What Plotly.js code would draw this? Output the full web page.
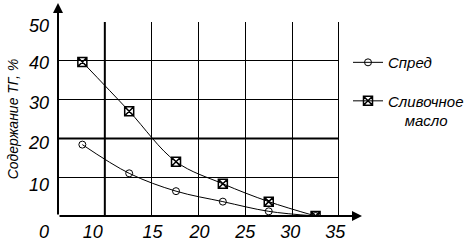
<!DOCTYPE html>
<html><head><meta charset="utf-8">
<script src="https://cdn.plot.ly/plotly-3.0.1.min.js"></script>
<style>html,body{margin:0;padding:0;background:#fff}</style>
</head><body><div id="chart" style="width:464px;height:242px"></div>
<script>
const xSpread = [7.6, 12.6, 17.6, 22.6, 27.5, 32.5];
const ySpread = [18.4, 11.0, 6.4, 3.7, 1.2, 0];
const xButter = [7.6, 12.6, 17.6, 22.6, 27.5, 32.5];
const yButter = [39.7, 27.0, 14.0, 8.3, 3.7, 0];
const gridX = [10, 15, 20, 25, 30, 35];
const gridY = [0, 10, 20, 30, 40, 50];
const xTickVals = [8.7, 15.1, 20.1, 25.0, 29.8, 34.6];
const xTickText = ['10', '15', '20', '25', '30', '35'];
const yTickVals = [49, 39.6, 29.3, 18.9, 8.1, -4.0];
const yTickText = ['50', '40', '30', '20', '10', '0'];
const seriesNames = ['Спред', 'Сливочное<br>\u00a0\u00a0\u00a0\u00a0масло'];
const yTitle = 'Содержание ТГ, %';

const FONT = '"Liberation Sans", Arial, sans-serif';
const W = 464, H = 242;
const mL = 58, mR = 125, mT = 22, mB = 5;
const plotW = W - mL - mR;
const plotH = H - mT - mB;
const gridBottomPx = 216;
const d0 = (H - mB - gridBottomPx) / plotH;
const y2min = -50 * d0 / (1 - d0);

const traces = [
  {x: xSpread, y: ySpread, name: seriesNames[0], type: 'scatter', mode: 'lines+markers',
   line: {color: '#000', width: 1, shape: 'spline', smoothing: 1},
   marker: {symbol: 'circle-open', size: 7, color: '#000', line: {width: 1, color: '#000'}},
   legendgroup: 'a'},
  {x: xButter, y: yButter, name: seriesNames[1], type: 'scatter', mode: 'lines+markers',
   line: {color: '#000', width: 1, shape: 'spline', smoothing: 1},
   marker: {symbol: 'square-x-open', size: 9, color: '#000', line: {width: 1.5, color: '#000'}},
   legendgroup: 'b'},
  {x: [], y: [], xaxis: 'x3', yaxis: 'y2', showlegend: false, hoverinfo: 'skip'},
  {x: [], y: [], xaxis: 'x2', yaxis: 'y', showlegend: false, hoverinfo: 'skip'}
];

const tickFont = {family: FONT, size: 18, color: '#000', style: 'italic'};

const layout = {
  width: W, height: H,
  margin: {l: mL, r: mR, t: mT, b: mB, autoexpand: false},
  paper_bgcolor: '#fff', plot_bgcolor: 'rgba(0,0,0,0)',
  showlegend: true,
  legend: {x: (348 - mL) / plotW, y: 0.888, xanchor: 'left', yanchor: 'top', valign: 'top',
           tracegroupgap: 16, bgcolor: 'rgba(0,0,0,0)',
           font: {family: FONT, size: 15, color: '#000', style: 'italic'}},
  xaxis: {domain: [0, 1], range: [5, 35], anchor: 'y', tickvals: gridX, showgrid: true,
          gridcolor: '#000', gridwidth: 1, showticklabels: false, ticks: '',
          zeroline: false, showline: false},
  xaxis2: {overlaying: 'x', anchor: 'y', range: [5, 35], tickvals: xTickVals, ticktext: xTickText,
           showgrid: false, zeroline: false, showline: false, ticks: '', side: 'bottom',
           tickfont: tickFont, ticklabelstandoff: 3},
  xaxis3: {domain: [0, 1], range: [5, 35], anchor: 'y2', visible: false, showgrid: false},
  yaxis: {domain: [d0, 1], range: [0, 50], anchor: 'x', tickvals: gridY, showgrid: true,
          gridcolor: '#000', gridwidth: 1, showticklabels: false, ticks: '',
          zeroline: false, showline: false,
          title: {text: '\u00a0'.repeat(10) + yTitle, standoff: 35,
                  font: {family: FONT, size: 14, color: '#000', style: 'italic'}}},
  yaxis2: {domain: [0, 1], range: [y2min, 50], anchor: 'x3',
           tickvals: yTickVals, ticktext: yTickText, showgrid: false, zeroline: false,
           showline: false, ticks: '', tickfont: tickFont, ticklabelstandoff: 8},
  shapes: [
    {type: 'line', xref: 'x', yref: 'y', x0: 10, x1: 10, y0: 0, y1: 50, line: {color: '#000', width: 2}},
    {type: 'line', xref: 'x', yref: 'y', x0: 5, x1: 35, y0: 20, y1: 20, line: {color: '#000', width: 2}},
    {type: 'line', xref: 'x', yref: 'y', x0: 35, x1: 35, y0: 0, y1: 50, line: {color: '#000', width: 2}}
  ],
  annotations: [
    {xref: 'paper', yref: 'y', x: (362 - mL) / plotW, y: 0, ax: -(362 - mL), ay: 0,
     text: '', showarrow: true, arrowhead: 2, arrowsize: 1, arrowwidth: 2, arrowcolor: '#000'},
    {xref: 'x', yref: 'paper', x: 5, y: 1 + (mT - 3) / plotH, ax: 0, ay: gridBottomPx - 3,
     text: '', showarrow: true, arrowhead: 2, arrowsize: 1, arrowwidth: 2, arrowcolor: '#000'}
  ]
};

Plotly.newPlot('chart', traces, layout, {staticPlot: true, displayModeBar: false});
</script>
</body></html>
